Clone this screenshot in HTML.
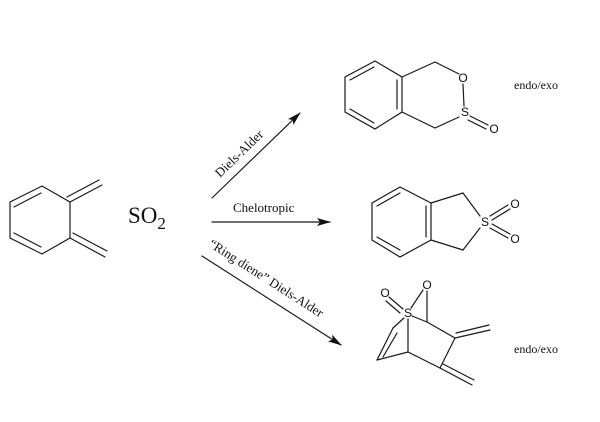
<!DOCTYPE html>
<html><head><meta charset="utf-8"><style>
html,body{margin:0;padding:0;background:#fff;}
svg{display:block;}
.b{stroke:#1a1a1a;stroke-width:1.2;fill:none;stroke-linecap:round}
.t{font-family:"Liberation Serif",serif;fill:#111}
.a{font-family:"Liberation Sans",sans-serif;fill:#111;font-size:12px;text-anchor:middle;dominant-baseline:central}
</style></head><body>
<svg width="600" height="422" viewBox="0 0 600 422" xmlns="http://www.w3.org/2000/svg">
<defs><marker id="ah" markerWidth="14" markerHeight="8" refX="13" refY="4" orient="auto" markerUnits="userSpaceOnUse"><path d="M0,0 L14,4 L0,8 L3,4 Z" fill="#111"/></marker></defs>
<g class="b">
<polyline points="10,202 42,186 70,202 70,238 42,254 10,238 10,202"/>
<line x1="14" y1="207" x2="41" y2="193"/>
<line x1="14" y1="233" x2="41" y2="247"/>
<line x1="70" y1="202" x2="102" y2="185"/><line x1="67" y1="197" x2="99" y2="180"/>
<line x1="70" y1="238" x2="105" y2="257"/><line x1="73" y1="233" x2="107" y2="251"/>
</g>
<text class="t" x="128" y="223" font-size="23">SO<tspan font-size="17" dy="6">2</tspan></text>
<g class="b">
<line x1="212" y1="198" x2="300" y2="113" marker-end="url(#ah)"/>
<line x1="212" y1="222" x2="330" y2="222" marker-end="url(#ah)"/>
<line x1="202" y1="256" x2="341" y2="345" marker-end="url(#ah)"/>
</g>
<text class="t" font-size="13" transform="translate(220,178) rotate(-44)">Diels-Alder</text>
<text class="t" font-size="13" x="233" y="212">Chelotropic</text>
<text class="t" font-size="13" transform="translate(208,246) rotate(32.6)">“Ring diene” Diels-Alder</text>
<g class="b">
<polyline points="375,61 402,77 402,112 375,129 345,112 345,77 375,61"/>
<line x1="350" y1="80" x2="374" y2="67"/>
<line x1="397" y1="80" x2="397" y2="109"/>
<line x1="350" y1="109" x2="374" y2="123"/>
<line x1="402" y1="77" x2="435" y2="62"/><line x1="435" y1="62" x2="459" y2="74"/>
<line x1="463" y1="84" x2="464" y2="106"/>
<line x1="402" y1="112" x2="435" y2="128"/><line x1="435" y1="128" x2="459" y2="117"/>
<line x1="470" y1="116" x2="488" y2="125"/><line x1="468" y1="120" x2="486" y2="129"/>
</g>
<text class="a" x="463" y="78">O</text><text class="a" x="465" y="112">S</text><text class="a" x="494" y="129">O</text>
<text class="t" font-size="12" x="514" y="89">endo/exo</text>
<g class="b">
<polyline points="400,187 431,203 431,240 400,257 372,240 372,203 400,187"/>
<line x1="377" y1="206" x2="400" y2="193"/>
<line x1="426" y1="206" x2="426" y2="237"/>
<line x1="377" y1="237" x2="400" y2="250"/>
<line x1="431" y1="203" x2="463" y2="193"/><line x1="463" y1="193" x2="480" y2="216"/>
<line x1="431" y1="240" x2="463" y2="250"/><line x1="463" y1="250" x2="480" y2="228"/>
<line x1="490" y1="216" x2="508" y2="205"/><line x1="492" y1="220" x2="510" y2="209"/>
<line x1="492" y1="224" x2="510" y2="234"/><line x1="490" y1="228" x2="508" y2="238"/>
</g>
<text class="a" x="485" y="222">S</text><text class="a" x="515" y="204">O</text><text class="a" x="515" y="239">O</text>
<g class="b">
<line x1="389" y1="297" x2="403" y2="309"/><line x1="386" y1="301" x2="400" y2="313"/>
<line x1="411" y1="308" x2="423" y2="290"/>
<line x1="427" y1="291" x2="427" y2="322"/>
<line x1="408" y1="319" x2="408" y2="352"/>
<line x1="412" y1="316" x2="427" y2="322"/>
<line x1="404" y1="318" x2="393" y2="328"/>
<line x1="393" y1="328" x2="377" y2="360"/><line x1="397" y1="333" x2="383" y2="357"/>
<line x1="377" y1="360" x2="408" y2="352"/>
<line x1="427" y1="322" x2="455" y2="338"/>
<line x1="408" y1="352" x2="440" y2="368"/>
<line x1="455" y1="338" x2="440" y2="368"/>
<line x1="455" y1="338" x2="490" y2="330"/><line x1="456" y1="333" x2="489" y2="325"/>
<line x1="440" y1="368" x2="472" y2="385"/><line x1="443" y1="364" x2="474" y2="380"/>
</g>
<text class="a" x="385" y="293">O</text><text class="a" x="427" y="285">O</text><text class="a" x="408" y="313">S</text>
<text class="t" font-size="12" x="514" y="353">endo/exo</text>
</svg>
</body></html>
